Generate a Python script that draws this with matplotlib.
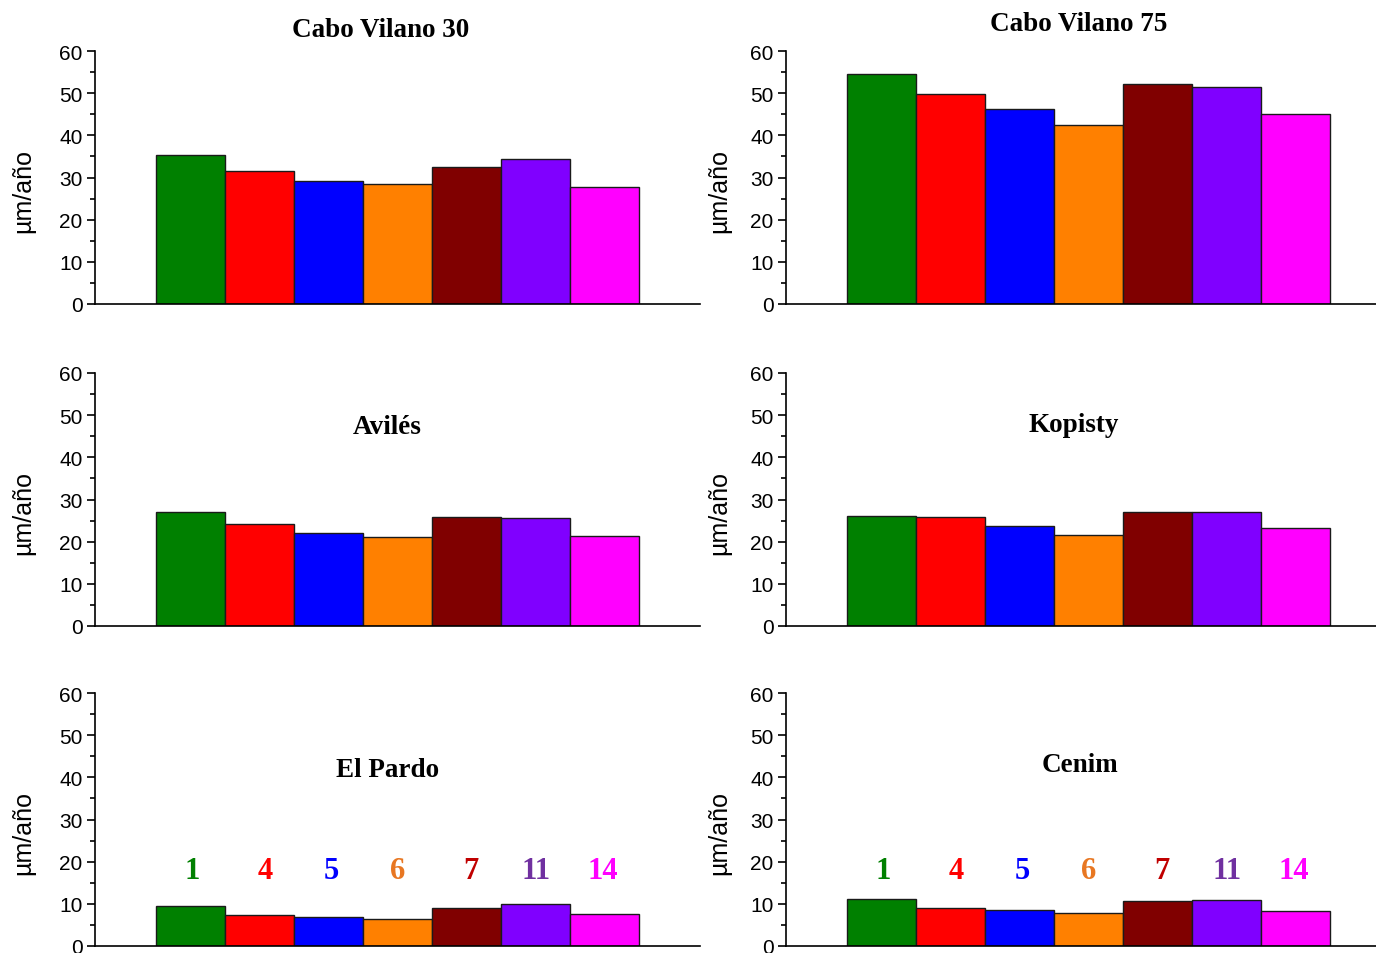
import numpy as np
import matplotlib
matplotlib.use("Agg")
import matplotlib.pyplot as plt
from matplotlib.ticker import MultipleLocator

# data
samples = ["1", "4", "5", "6", "7", "11", "14"]
bar_colors = ["#008000", "#ff0000", "#0000ff", "#ff8000", "#800000", "#8000ff", "#ff00ff"]
label_colors = ["#008000", "#ff0000", "#0000ff", "#e87722", "#c00000", "#7030a0", "#ff00ff"]

sites = ["Cabo Vilano 30", "Cabo Vilano 75", "Avilés", "Kopisty", "El Pardo", "Cenim"]
cabo30 = [35.3, 31.5, 29.2, 28.5, 32.5, 34.4, 27.7]
cabo75 = [54.5, 49.8, 46.2, 42.4, 52.2, 51.5, 45.1]
aviles = [27.0, 24.2, 22.1, 21.1, 25.8, 25.6, 21.3]
kopisty = [26.1, 25.8, 23.7, 21.6, 27.0, 27.0, 23.2]
elpardo = [9.5, 7.4, 6.9, 6.3, 9.1, 10.0, 7.7]
cenim = [11.2, 9.0, 8.6, 7.9, 10.6, 11.0, 8.4]
values = [cabo30, cabo75, aviles, kopisty, elpardo, cenim]

# title placement (data units) for each panel
title_x = [2.75, 2.86, 2.85, 2.78, 2.86, 2.88]
title_y = [65.1, 66.6, 47.4, 47.9, 41.9, 43.1]
label_dx = [0.02, 0.09, 0.04, 0.0, 0.06, 0.01, -0.03]

fig = plt.figure(figsize=(13.76, 9.54), dpi=100)

lefts = [95 / 1376, 786 / 1376]
bottoms = [1 - 305 / 954, 1 - 627 / 954, 1 - 947 / 954]
w = 605 / 1376
h = 253 / 954

x = np.arange(len(samples))
for i, (site, vals) in enumerate(zip(sites, values)):
    row, col = divmod(i, 2)
    ax = fig.add_axes([lefts[col], bottoms[row], w, h])
    ax.bar(x, vals, width=1.0, color=bar_colors, edgecolor="#1a1a1a", linewidth=1.0, zorder=2)
    ax.set_xlim(-1.38, 7.38)
    ax.set_ylim(0, 60)
    ax.yaxis.set_major_locator(MultipleLocator(10))
    ax.yaxis.set_minor_locator(MultipleLocator(5))
    ax.set_xticks([])
    for s in ["top", "right"]:
        ax.spines[s].set_visible(False)
    for s in ["left", "bottom"]:
        ax.spines[s].set_linewidth(1.2)
    ax.tick_params(axis="y", which="major", length=6, width=1.2, direction="out",
                   labelsize=15, pad=3)
    ax.tick_params(axis="y", which="minor", length=3.5, width=1.2, direction="out")
    for lab in ax.get_yticklabels():
        lab.set_fontfamily("Liberation Sans")
    ax.set_ylabel("µm/año", fontsize=18, fontfamily="Liberation Sans")
    ax.yaxis.set_label_coords(-0.099 if col == 0 else -0.091, 0.45)
    ax.text(title_x[i], title_y[i], site,
            ha="center", va="center", fontsize=19.5, fontweight="bold",
            fontfamily="Liberation Serif", clip_on=False)
    if row == 2:
        for xi, s, c, dx in zip(x, samples, label_colors, label_dx):
            ax.text(xi + dx, 18.0, s, ha="center", va="center", fontsize=22,
                    fontweight="bold", color=c, fontfamily="Liberation Serif")

fig.savefig("out.png", dpi=100)
